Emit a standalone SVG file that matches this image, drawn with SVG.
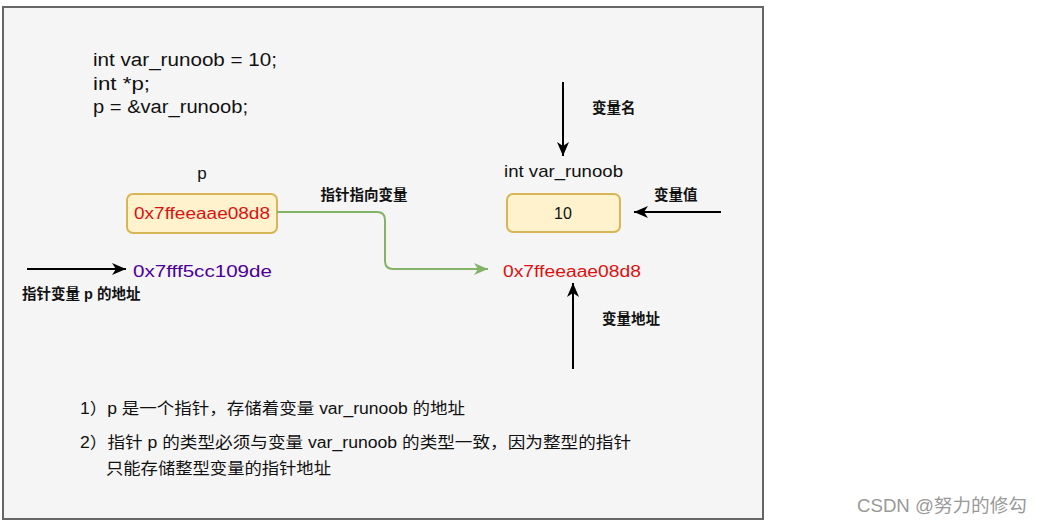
<svg xmlns="http://www.w3.org/2000/svg" width="1042" height="527" viewBox="0 0 1042 527">
<defs>
<style>
.t{font-family:"Liberation Sans","Noto Sans CJK SC",sans-serif;fill:#111;dominant-baseline:central}
.code{font-size:18px}
.lbl{font-size:14.5px;font-weight:bold}
.hex{font-size:16px}
.note{font-size:16px}
.box{fill:#fff2cc;stroke:#d6b656;stroke-width:2}
.arr{fill:none;stroke:#000;stroke-width:2}
.grn{fill:none;stroke:#82b366;stroke-width:2}
</style>
<marker id="ab" markerUnits="userSpaceOnUse" markerWidth="16" markerHeight="14" refX="15" refY="7" orient="auto">
<path d="M1,1 L15,7 L1,13 L5,7 Z" fill="#000"/>
</marker>
<marker id="ag" markerUnits="userSpaceOnUse" markerWidth="16" markerHeight="14" refX="15" refY="7" orient="auto">
<path d="M1,1 L15,7 L1,13 L5,7 Z" fill="#82b366"/>
</marker>
</defs>
<rect x="0" y="0" width="1042" height="527" fill="#ffffff"/>
<rect x="3" y="7" width="760" height="512" fill="#f5f5f5" stroke="#666666" stroke-width="2"/>

<g id="code">
<text class="t code" x="93" y="60" textLength="184" lengthAdjust="spacingAndGlyphs">int var_runoob = 10;</text>
<text class="t code" x="93" y="84" textLength="57" lengthAdjust="spacingAndGlyphs">int *p;</text>
<text class="t code" x="93" y="107" textLength="155" lengthAdjust="spacingAndGlyphs">p = &amp;var_runoob;</text>
</g>

<g id="p-label"><text class="t" style="font-size:17px" x="202" y="173" text-anchor="middle">p</text></g>

<g id="p-box">
<rect class="box" x="127" y="194" width="150" height="39" rx="6"/>
<text class="t hex" x="202" y="213" text-anchor="middle" style="fill:#dd1111" textLength="136" lengthAdjust="spacingAndGlyphs">0x7ffeeaae08d8</text>
</g>

<g id="p-addr">
<text class="t hex" x="133" y="271" style="fill:#4c0099" textLength="139" lengthAdjust="spacingAndGlyphs">0x7fff5cc109de</text>
</g>
<g id="p-addr-label"><text class="t lbl" x="22" y="294">指针变量 p 的地址</text></g>

<g id="link-label"><text class="t lbl" x="364" y="195" text-anchor="middle">指针指向变量</text></g>

<g id="var-name-label"><text class="t lbl" x="592" y="108">变量名</text></g>
<g id="var-decl"><text class="t" style="font-size:17px" x="504" y="171" textLength="119" lengthAdjust="spacingAndGlyphs">int var_runoob</text></g>

<g id="var-box">
<rect class="box" x="507" y="194" width="113" height="38" rx="6"/>
<text class="t hex" x="563" y="213" text-anchor="middle">10</text>
</g>
<g id="var-value-label"><text class="t lbl" x="654" y="195">变量值</text></g>

<g id="var-addr">
<text class="t hex" x="503" y="271" style="fill:#dd1111" textLength="138" lengthAdjust="spacingAndGlyphs">0x7ffeeaae08d8</text>
</g>
<g id="var-addr-label"><text class="t lbl" x="602" y="319">变量地址</text></g>

<g id="notes">
<text class="t note" x="80" y="408" textLength="385" lengthAdjust="spacingAndGlyphs">1）p 是一个指针，存储着变量 var_runoob 的地址</text>
<text class="t note" x="80" y="442" textLength="551" lengthAdjust="spacingAndGlyphs">2）指针 p 的类型必须与变量 var_runoob 的类型一致，因为整型的指针</text>
<text class="t note" x="106" y="468" textLength="225" lengthAdjust="spacingAndGlyphs">只能存储整型变量的指针地址</text>
</g>

<g id="connectors">
<path class="grn" d="M277,212 H377 Q385,212 385,220 V261 Q385,269 393,269 H488" marker-end="url(#ag)"/>
<path class="arr" d="M27,269 H126" marker-end="url(#ab)"/>
<path class="arr" d="M563,82 V156" marker-end="url(#ab)"/>
<path class="arr" d="M721,212 H634" marker-end="url(#ab)"/>
<path class="arr" d="M573,369 V283" marker-end="url(#ab)"/>
</g>

<text x="857" y="506" textLength="170" lengthAdjust="spacingAndGlyphs" style="font-family:'Liberation Sans','Noto Sans CJK SC',sans-serif;font-size:18px;fill:#999999;dominant-baseline:central">CSDN @努力的修勾</text>
</svg>
